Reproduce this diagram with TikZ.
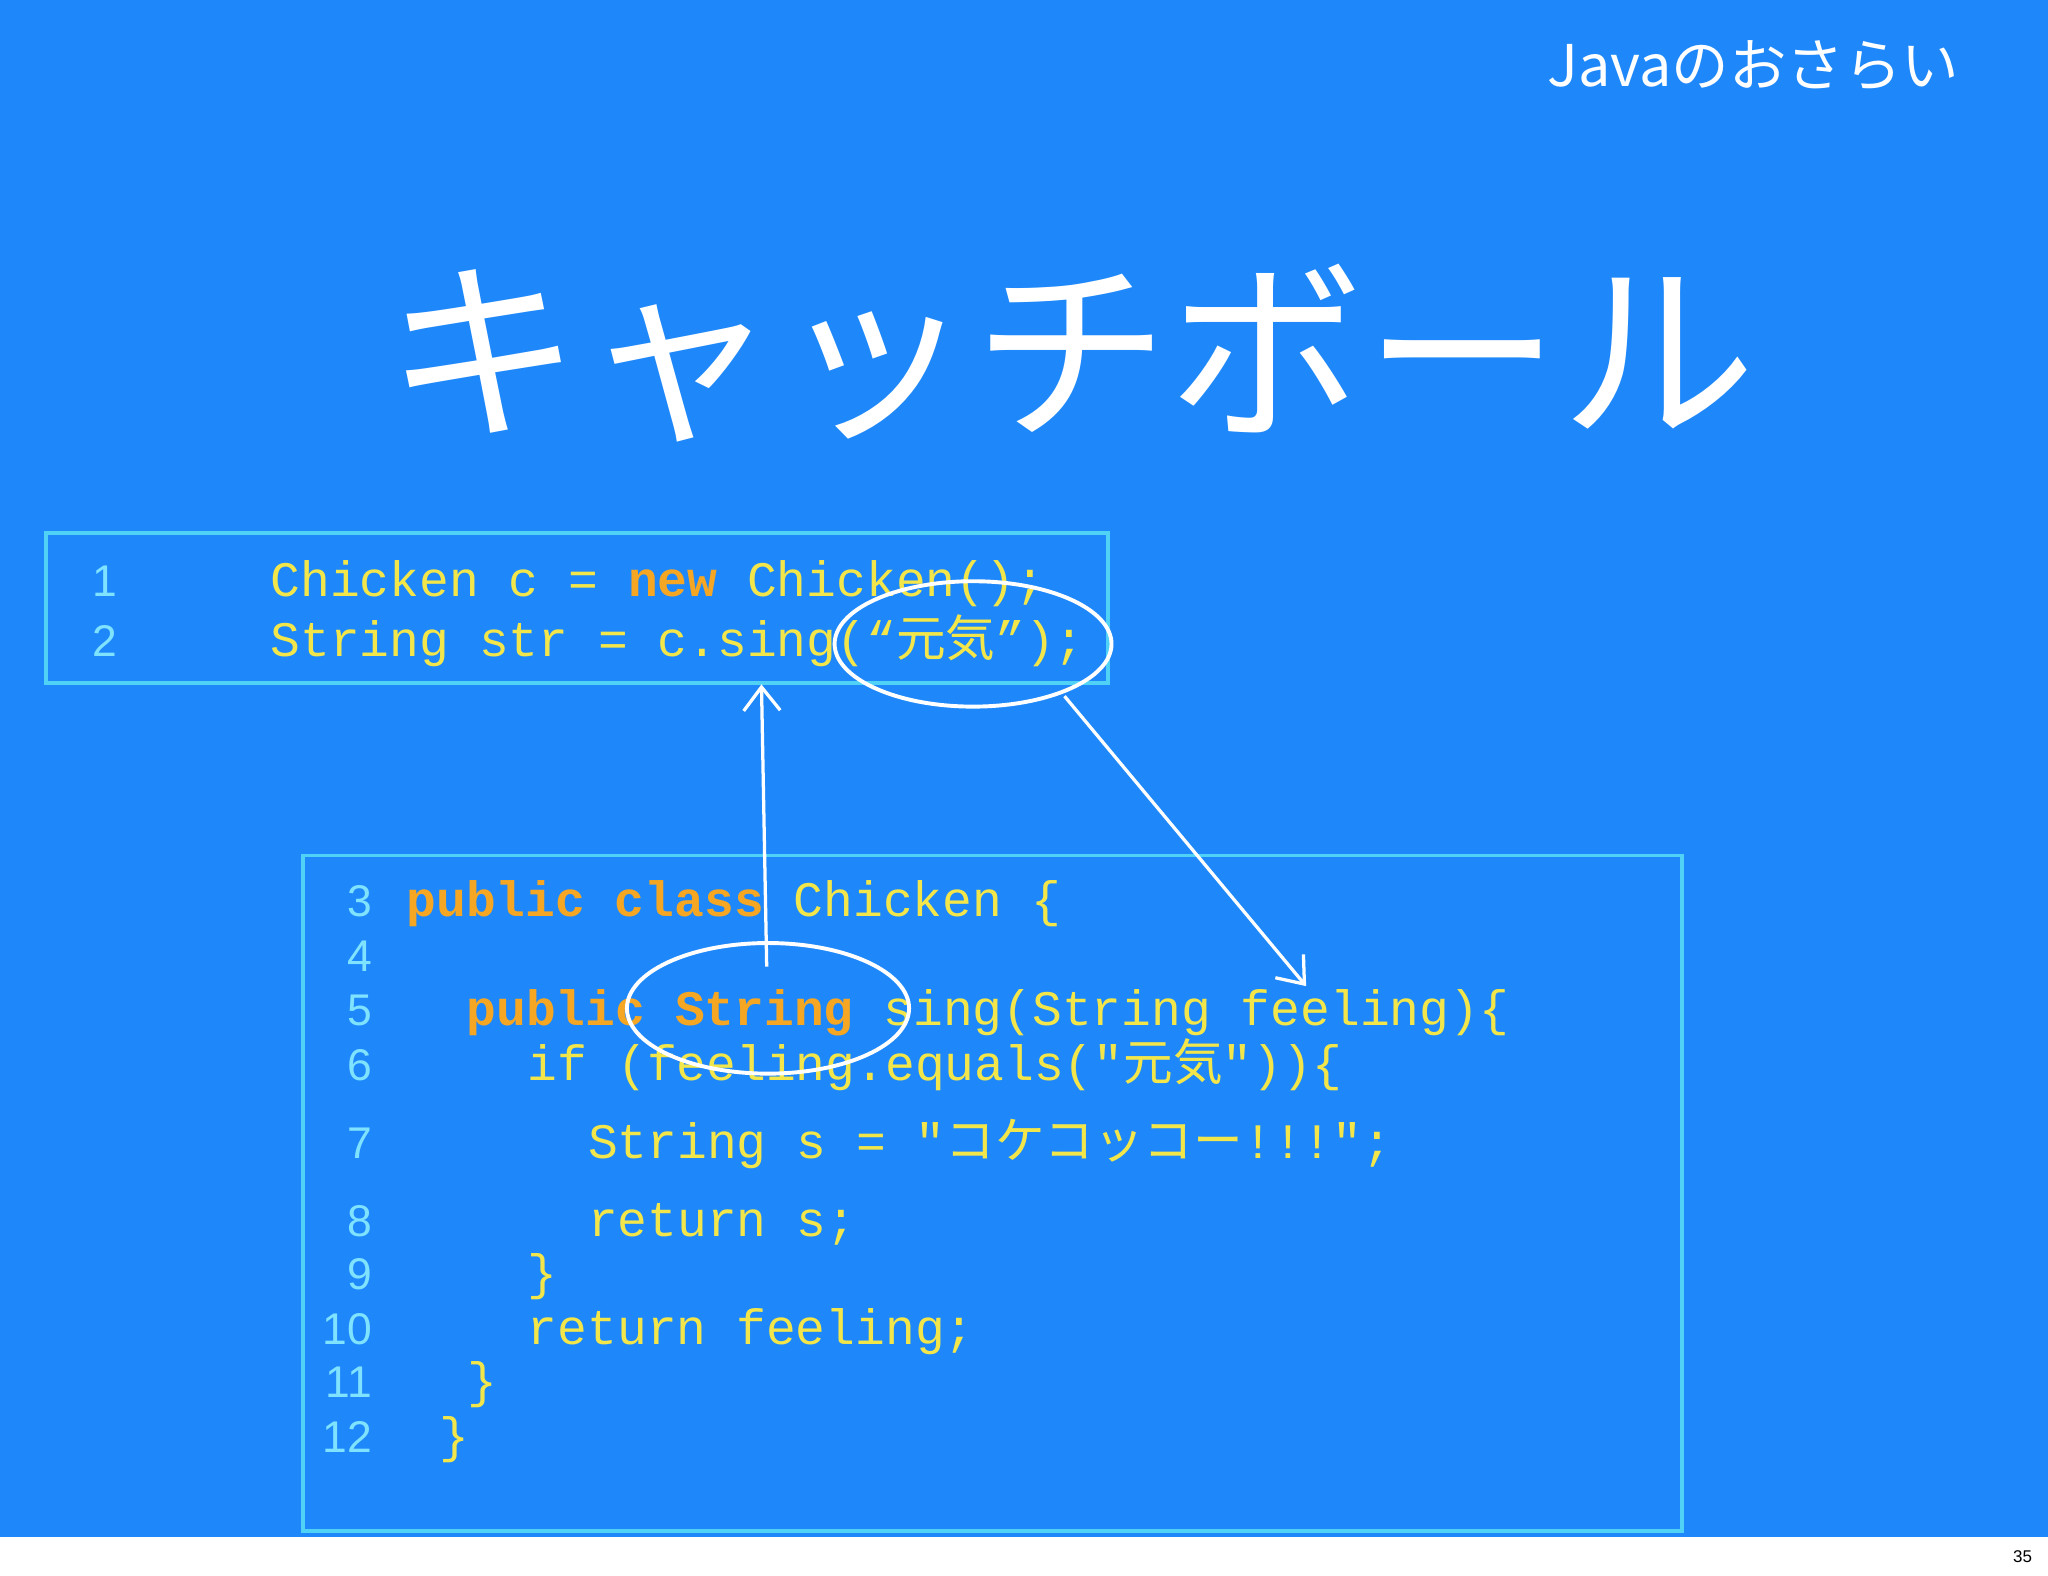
\documentclass[tikz,border=0pt]{standalone}
\usepackage{fontspec}
\setmainfont{Liberation Sans}
\setmonofont{Liberation Mono}
\newfontfamily\cjk{Noto Sans CJK JP}
\usetikzlibrary{arrows.meta}
\definecolor{bg}{HTML}{1E88FA}
\definecolor{codey}{HTML}{F2E64A}
\definecolor{kwo}{HTML}{F5A623}
\definecolor{lnc}{HTML}{7FE3FF}
\definecolor{boxc}{HTML}{4FD2F5}
\newcommand{\kw}[1]{{\color{kwo}\bfseries #1}}
\newcommand{\jp}[1]{{\cjk #1}}
\tikzset{
  code/.style={anchor=base west,inner sep=0pt,font=\ttfamily\fontsize{38}{38}\selectfont,text=codey},
  lnum/.style={anchor=base east,inner sep=0pt,font=\fontsize{34}{34}\selectfont,text=lnc},
  codebox/.style={draw=boxc,line width=3pt},
  sketch/.style={draw=white,line width=3pt},
  arr/.style={draw=white,line width=2.5pt,-{Straight Barb[length=18pt,width=28pt,line width=2.5pt]}}
}
\begin{document}
\begin{tikzpicture}[x=1pt,y=-1pt]
\fill[bg] (0,0) rectangle (1568,1177);
\fill[white] (0,1177) rectangle (1568,1206);
\useasboundingbox (0,0) rectangle (1568,1206);
\node[anchor=base east,inner sep=0pt,font=\fontsize{13}{13}\selectfont] (pg) at (1556,1196) {35};
\node[anchor=base east,inner sep=0pt,text=white,font=\cjk\fontsize{44}{44}\selectfont] (sub) at (1500,66) {Javaのおさらい};
\node[inner sep=0pt,text=white,font=\cjk\fontsize{150}{150}\selectfont] (title) at (820,270) {キャッチボール};
% box 1
\draw[codebox] (35,408) rectangle (848,523);
\node[lnum] (l1) at (90,457) {1};
\node[lnum] (l2) at (90,503) {2};
\node[code] (c1) at (207,457) {Chicken c = \kw{new} Chicken();};
\node[code] (c2) at (207,503) {String str = c.sing(“\jp{元気}”);};
% box 2
\draw[codebox] (232,655) rectangle (1288,1172);
\foreach \n/\y in {3/702,4/744,5/785,6/827,7/887,8/947,9/987,10/1029,11/1070,12/1112}
  \node[lnum] (n\n) at (285,\y) {\n};
\node[code] (d3) at (311,702) {\kw{public class} Chicken \{};
\node[code] (d5) at (357,785) {\kw{public String} sing(String feeling)\{};
\node[code] (d6) at (404,827) {if (feeling.equals("\jp{元気}"))\{};
\node[code] (d7) at (450,887) {String s = "\jp{コケコッコー}!!!";};
\node[code] (d8) at (450,947) {return s;};
\node[code] (d9) at (404,987) {\}};
\node[code] (d10) at (404,1029) {return feeling;};
\node[code] (d11) at (358,1070) {\}};
\node[code] (d12) at (336,1112) {\}};
% sketch marks
\draw[sketch] (745,493) ellipse [x radius=106,y radius=48];
\draw[sketch] (588,772) ellipse [x radius=108,y radius=50];
\coordinate (a1s) at (587,740);
\coordinate (a1e) at (583,524);
\coordinate (a2s) at (815,533);
\coordinate (a2e) at (1000,755);
\draw[arr] (a1s) -- (a1e);
\draw[arr] (a2s) -- (a2e);
\end{tikzpicture}
\end{document}
